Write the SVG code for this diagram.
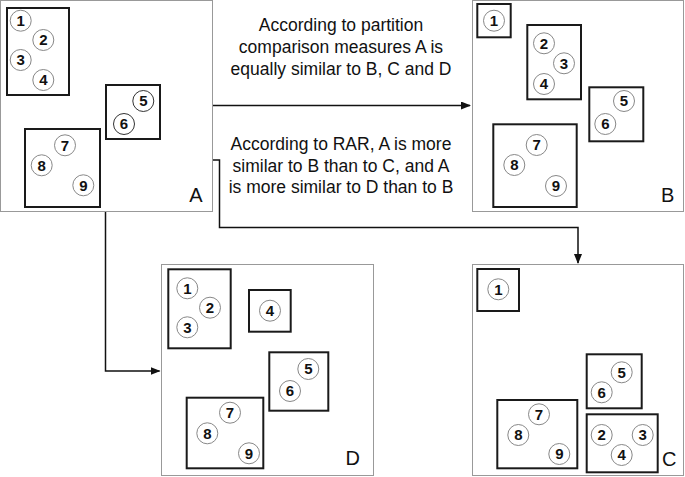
<svg xmlns="http://www.w3.org/2000/svg" width="685" height="477" viewBox="0 0 685 477">
<defs>
<style>
.frame{fill:#fff;stroke:#999;stroke-width:1}
.box{fill:none;stroke:#1a1a1a;stroke-width:2}
.c{fill:#fff;stroke:#888;stroke-width:1}
.n{font-family:"Liberation Sans",Arial,sans-serif;font-weight:bold;font-size:15px;text-anchor:middle;fill:#111}
.lbl{font-family:"Liberation Sans",Arial,sans-serif;font-size:20px;text-anchor:middle;fill:#111}
.t{font-family:"Liberation Sans",Arial,sans-serif;font-size:17.5px;text-anchor:middle;fill:#111}
.con{fill:none;stroke:#111;stroke-width:1.5}
</style>
<marker id="ah" markerWidth="10" markerHeight="8" refX="9" refY="4" orient="auto" markerUnits="userSpaceOnUse">
<path d="M0,0 L10,4 L0,8 z" fill="#111"/>
</marker>
</defs>
<rect width="685" height="477" fill="#fff"/>

<g id="connectors">
<path class="con" d="M212.5,105.5 H470" marker-end="url(#ah)"/>
<path class="con" d="M212.5,160 H219.5 V227.5 H578 V263" marker-end="url(#ah)"/>
<path class="con" d="M105.5,211.5 V371 H159.5" marker-end="url(#ah)"/>
</g>

<g id="text1">
<text class="t" x="341" y="31">According to partition</text>
<text class="t" x="341" y="53">comparison measures A is</text>
<text class="t" x="341" y="75">equally similar to B, C and D</text>
</g>
<g id="text2">
<text class="t" x="341" y="150">According to RAR, A is more</text>
<text class="t" x="341" y="172">similar to B than to C, and A</text>
<text class="t" x="341" y="193">is more similar to D than to B</text>
</g>

<g id="panelA">
<rect class="frame" x="0.5" y="0.5" width="212" height="211"/>
<rect class="box" x="7" y="8" width="62" height="87"/>
<rect class="box" x="106" y="85" width="54" height="54"/>
<rect class="box" x="25" y="129" width="75" height="78"/>
<circle class="c" cx="20.7" cy="20.7" r="10.5"/><text class="n" x="20.7" y="26">1</text>
<circle class="c" cx="43.3" cy="40" r="10.5"/><text class="n" x="43.3" y="45.3">2</text>
<circle class="c" cx="20.7" cy="60" r="10.5"/><text class="n" x="20.7" y="65.3">3</text>
<circle class="c" cx="43.3" cy="80" r="10.5"/><text class="n" x="43.3" y="85.3">4</text>
<circle class="c" cx="143.3" cy="101" r="10.5" style="stroke:#333"/><text class="n" x="143.3" y="106.3">5</text>
<circle class="c" cx="124" cy="124" r="10.5" style="stroke:#333"/><text class="n" x="124" y="129.3">6</text>
<circle class="c" cx="65" cy="145.3" r="10.5"/><text class="n" x="65" y="150.6">7</text>
<circle class="c" cx="41.7" cy="165.3" r="10.5"/><text class="n" x="41.7" y="170.6">8</text>
<circle class="c" cx="83.3" cy="185.3" r="10.5"/><text class="n" x="83.3" y="190.6">9</text>
<text class="lbl" x="196" y="202">A</text>
</g>

<g id="panelB">
<rect class="frame" x="472.5" y="0.5" width="211" height="211"/>
<rect class="box" x="477.3" y="4" width="33.4" height="33.3"/>
<rect class="box" x="527.3" y="25" width="53.7" height="74.3"/>
<rect class="box" x="589.3" y="87.3" width="54" height="54"/>
<rect class="box" x="493.3" y="124.3" width="83.4" height="82.7"/>
<circle class="c" cx="494" cy="20.7" r="10.5"/><text class="n" x="494" y="26">1</text>
<circle class="c" cx="544" cy="43.3" r="10.5"/><text class="n" x="544" y="48.6">2</text>
<circle class="c" cx="564" cy="63.3" r="10.5"/><text class="n" x="564" y="68.6">3</text>
<circle class="c" cx="544" cy="84" r="10.5"/><text class="n" x="544" y="89.3">4</text>
<circle class="c" cx="624" cy="101" r="10.5"/><text class="n" x="624" y="106.3">5</text>
<circle class="c" cx="605.3" cy="124" r="10.5"/><text class="n" x="605.3" y="129.3">6</text>
<circle class="c" cx="536.7" cy="145" r="10.5"/><text class="n" x="536.7" y="150.3">7</text>
<circle class="c" cx="514.3" cy="165" r="10.5"/><text class="n" x="514.3" y="170.3">8</text>
<circle class="c" cx="556" cy="186" r="10.5"/><text class="n" x="556" y="191.3">9</text>
<text class="lbl" x="667.7" y="202">B</text>
</g>

<g id="panelD">
<rect class="frame" x="161.5" y="264.5" width="212" height="211"/>
<rect class="box" x="168.3" y="269.3" width="62.4" height="79"/>
<rect class="box" x="249" y="290" width="41.7" height="41.7"/>
<rect class="box" x="269.3" y="352.3" width="59" height="58.4"/>
<rect class="box" x="186.7" y="397.7" width="76.6" height="70.6"/>
<circle class="c" cx="187.3" cy="288.3" r="10.5"/><text class="n" x="187.3" y="293.6">1</text>
<circle class="c" cx="210" cy="307.7" r="10.5"/><text class="n" x="210" y="313">2</text>
<circle class="c" cx="187.3" cy="327.3" r="10.5"/><text class="n" x="187.3" y="332.6">3</text>
<circle class="c" cx="270" cy="310.7" r="10.5"/><text class="n" x="270" y="316">4</text>
<circle class="c" cx="308.3" cy="369" r="10.5"/><text class="n" x="308.3" y="374.3">5</text>
<circle class="c" cx="290" cy="391" r="10.5"/><text class="n" x="290" y="396.3">6</text>
<circle class="c" cx="230" cy="412.7" r="10.5"/><text class="n" x="230" y="418">7</text>
<circle class="c" cx="207.3" cy="433.3" r="10.5"/><text class="n" x="207.3" y="438.6">8</text>
<circle class="c" cx="249" cy="453.3" r="10.5"/><text class="n" x="249" y="458.6">9</text>
<text class="lbl" x="352.7" y="465">D</text>
</g>

<g id="panelC">
<rect class="frame" x="472.5" y="264.5" width="211" height="211"/>
<rect class="box" x="477.3" y="269" width="41.7" height="42"/>
<rect class="box" x="586.7" y="354.3" width="55" height="54"/>
<rect class="box" x="497.3" y="400" width="80" height="68.3"/>
<rect class="box" x="586.7" y="414.3" width="71" height="58"/>
<circle class="c" cx="498.3" cy="289.3" r="10.5"/><text class="n" x="498.3" y="294.6">1</text>
<circle class="c" cx="621.7" cy="372.3" r="10.5"/><text class="n" x="621.7" y="377.6">5</text>
<circle class="c" cx="601.7" cy="392.3" r="10.5"/><text class="n" x="601.7" y="397.6">6</text>
<circle class="c" cx="539" cy="414.3" r="10.5"/><text class="n" x="539" y="419.6">7</text>
<circle class="c" cx="518.3" cy="435" r="10.5"/><text class="n" x="518.3" y="440.3">8</text>
<circle class="c" cx="559.3" cy="454" r="10.5"/><text class="n" x="559.3" y="459.3">9</text>
<circle class="c" cx="601.7" cy="435" r="10.5"/><text class="n" x="601.7" y="440.3">2</text>
<circle class="c" cx="642.7" cy="435" r="10.5"/><text class="n" x="642.7" y="440.3">3</text>
<circle class="c" cx="621.7" cy="455" r="10.5"/><text class="n" x="621.7" y="460.3">4</text>
<text class="lbl" x="669.3" y="466">C</text>
</g>
</svg>
